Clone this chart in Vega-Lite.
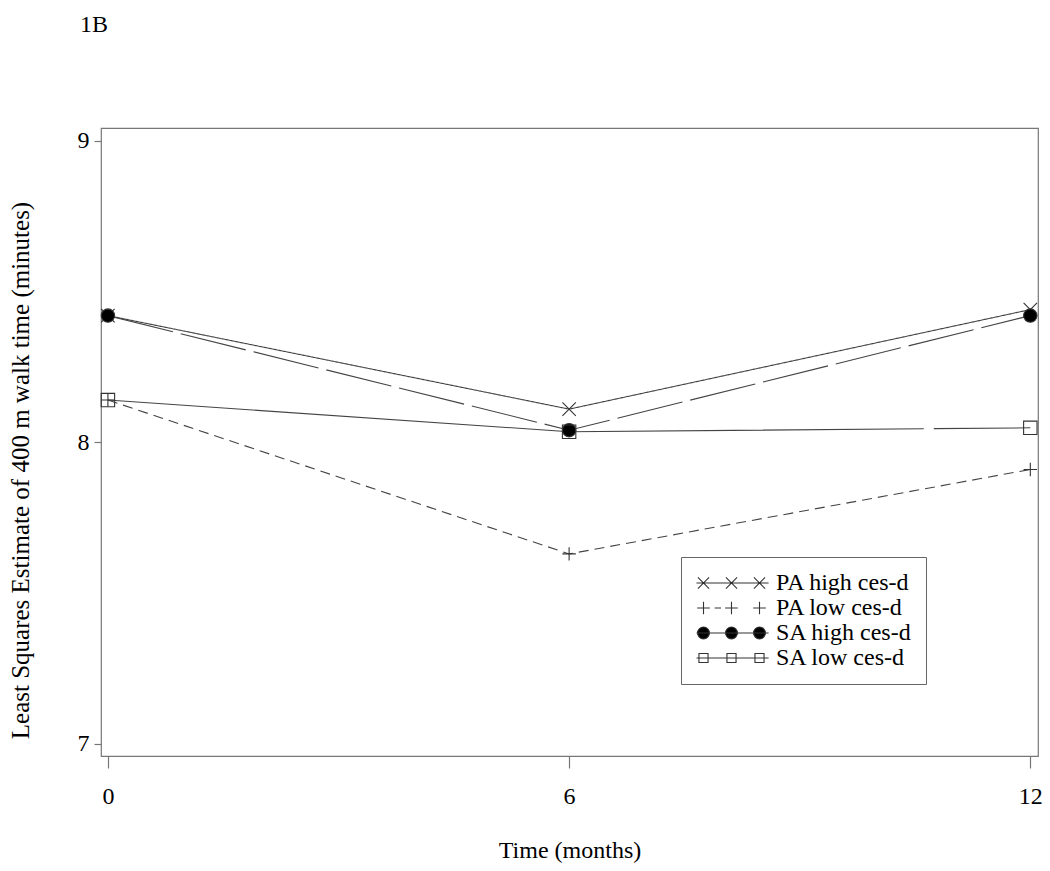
{
  "$schema": "https://vega.github.io/schema/vega-lite/v6.json",
  "width": 937,
  "height": 628,
  "autosize": "none",
  "padding": {"left": 101, "top": 128, "right": 12, "bottom": 115},
  "background": "white",
  "title": {
    "text": "1B",
    "anchor": "start",
    "frame": "group",
    "offset": 72,
    "dx": -21,
    "baseline": "alphabetic",
    "font": "Liberation Serif",
    "fontSize": 24,
    "fontWeight": "normal",
    "color": "black"
  },
  "config": {
    "view": {"stroke": "#777", "strokeWidth": 1.2},
    "font": "Liberation Serif",
    "axis": {
      "grid": false,
      "domain": false,
      "labelOverlap": false,
      "labelFlush": false,
      "tickColor": "#777",
      "tickWidth": 1.2,
      "labelFont": "Liberation Serif",
      "labelFontSize": 24,
      "labelColor": "black",
      "titleFont": "Liberation Serif",
      "titleFontSize": 24,
      "titleFontWeight": "normal",
      "titleColor": "black"
    }
  },
  "data": {
    "values": [
      {"series": "PA high ces-d", "time": 0, "value": 8.42},
      {"series": "PA high ces-d", "time": 6, "value": 8.11},
      {"series": "PA high ces-d", "time": 12, "value": 8.44},
      {"series": "PA low ces-d", "time": 0, "value": 8.14},
      {"series": "PA low ces-d", "time": 6, "value": 7.63},
      {"series": "PA low ces-d", "time": 12, "value": 7.91},
      {"series": "SA high ces-d", "time": 0, "value": 8.42},
      {"series": "SA high ces-d", "time": 6, "value": 8.04},
      {"series": "SA high ces-d", "time": 12, "value": 8.42},
      {"series": "SA low ces-d", "time": 0, "value": 8.14},
      {"series": "SA low ces-d", "time": 6, "value": 8.035},
      {"series": "SA low ces-d", "time": 12, "value": 8.048}
    ]
  },
  "resolve": {"scale": {"shape": "independent", "fill": "independent", "strokeDash": "independent", "stroke": "independent"}},
  "layer": [
    {
      "mark": {"type": "line", "strokeWidth": 1.1, "color": "#444"},
      "encoding": {
        "x": {
          "field": "time",
          "type": "quantitative",
          "scale": {"domain": [-0.09, 12.1], "nice": false, "zero": false},
          "axis": {
            "values": [0, 6, 12],
            "format": ".0f",
            "tickSize": 12,
            "labelPadding": 16,
            "title": "Time (months)",
            "titlePadding": 30
          }
        },
        "y": {
          "field": "value",
          "type": "quantitative",
          "scale": {"domain": [6.96, 9.042], "nice": false, "zero": false},
          "axis": {
            "values": [7, 8, 9],
            "format": ".0f",
            "tickSize": 7,
            "labelPadding": 5,
            "title": "Least Squares Estimate of 400 m walk time (minutes)",
            "titleFontSize": 25,
            "titleAngle": -90,
            "titleX": -81,
            "titleY": 342,
            "titleAlign": "center",
            "titleBaseline": "middle"
          }
        },
        "strokeDash": {
          "field": "series",
          "type": "nominal",
          "scale": {
            "domain": ["PA high ces-d", "PA low ces-d", "SA high ces-d", "SA low ces-d"],
            "range": [[1, 0], [10, 6], [67, 8], [817, 10]]
          },
          "legend": null
        }
      }
    },
    {
      "mark": {"type": "point", "filled": false, "strokeWidth": 1.1, "opacity": 1},
      "encoding": {
        "x": {"field": "time", "type": "quantitative"},
        "y": {"field": "value", "type": "quantitative"},
        "shape": {
          "field": "series",
          "type": "nominal",
          "scale": {
            "domain": ["PA high ces-d", "PA low ces-d", "SA high ces-d", "SA low ces-d"],
            "range": ["M-1,-1L1,1M-1,1L1,-1", "M-1,0L1,0M0,-1L0,1", "circle", "square"]
          },
          "legend": null
        },
        "fill": {
          "field": "series",
          "type": "nominal",
          "scale": {
            "domain": ["PA high ces-d", "PA low ces-d", "SA high ces-d", "SA low ces-d"],
            "range": ["transparent", "transparent", "black", "transparent"]
          },
          "legend": null
        },
        "stroke": {"value": "#333"},
        "size": {"value": 180}
      }
    },
    {
      "transform": [{"filter": "false"}],
      "mark": {"type": "point", "filled": false, "strokeWidth": 1.1, "opacity": 1},
      "encoding": {
        "shape": {
          "field": "series",
          "type": "nominal",
          "scale": {
            "domain": ["PA high ces-d", "PA low ces-d", "SA high ces-d", "SA low ces-d"],
            "range": [
              "M-1.5,0L8.8,0M-1.3,-0.8L0.3,0.8M-1.3,0.8L0.3,-0.8M2.7,-0.8L4.3,0.8M2.7,0.8L4.3,-0.8M6.7,-0.8L8.3,0.8M6.7,0.8L8.3,-0.8",
              "M-1.4,0L0.4,0M-0.5,-0.9L-0.5,0.9M1.1,0L2,0M2.6,0L4.4,0M3.5,-0.9L3.5,0.9M6.6,0L8.4,0M7.5,-0.9L7.5,0.9",
              "M-1.5,0L8.8,0M-1.35,0A0.85,0.85,0,1,0,0.35,0A0.85,0.85,0,1,0,-1.35,0M2.65,0A0.85,0.85,0,1,0,4.35,0A0.85,0.85,0,1,0,2.65,0M6.65,0A0.85,0.85,0,1,0,8.35,0A0.85,0.85,0,1,0,6.65,0",
              "M-1.5,0L8.8,0M-1.15,-0.65L0.15,-0.65L0.15,0.65L-1.15,0.65ZM2.85,-0.65L4.15,-0.65L4.15,0.65L2.85,0.65ZM6.85,-0.65L8.15,-0.65L8.15,0.65L6.85,0.65Z"
            ]
          },
          "legend": {
            "orient": "none",
            "legendX": 580,
            "legendY": 429,
            "title": null,
            "strokeColor": "#666",
            "padding": 14,
            "labelFont": "Liberation Serif",
            "labelFontSize": 24,
            "labelColor": "black",
            "labelOffset": 57,
            "labelLimit": 400,
            "symbolSize": 196,
            "rowPadding": 1,
            "symbolStrokeWidth": 1.1,
            "symbolOpacity": 1
          }
        },
        "fill": {
          "field": "series",
          "type": "nominal",
          "scale": {
            "domain": ["PA high ces-d", "PA low ces-d", "SA high ces-d", "SA low ces-d"],
            "range": ["transparent", "transparent", "black", "transparent"]
          }
        },
        "stroke": {
          "field": "series",
          "type": "nominal",
          "scale": {
            "domain": ["PA high ces-d", "PA low ces-d", "SA high ces-d", "SA low ces-d"],
            "range": ["#333", "#333", "#333", "#333"]
          }
        }
      }
    }
  ]
}
